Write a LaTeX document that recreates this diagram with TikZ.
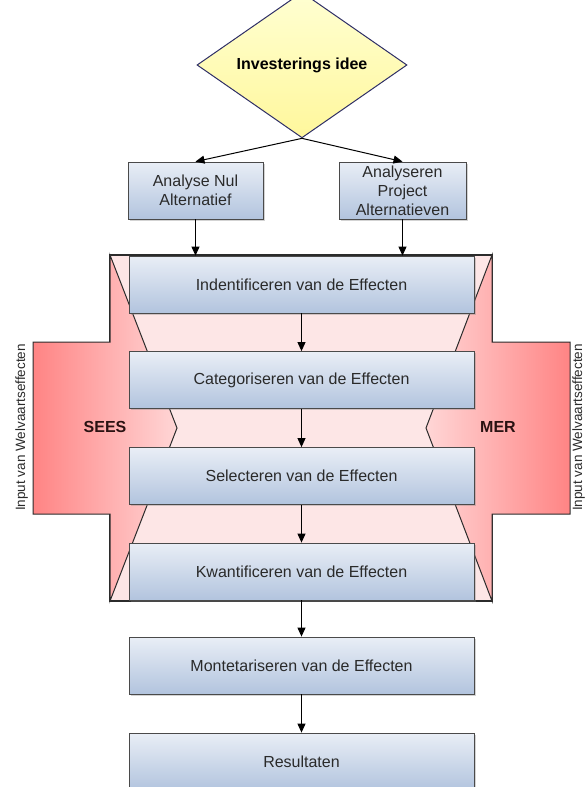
\documentclass[tikz,border=0pt]{standalone}
\usepackage{fontspec}
\setmainfont{Liberation Sans}
\usetikzlibrary{shapes.geometric,arrows.meta,shadows}

\definecolor{boxtop}{HTML}{E9EEF6}
\definecolor{boxbot}{HTML}{B2C4DE}
\definecolor{boxline}{HTML}{4A4A4A}
\definecolor{txt}{HTML}{2A2A2A}
\definecolor{dnavy}{HTML}{2E2E66}
\definecolor{ytop}{HTML}{FFFFD2}
\definecolor{ybot}{HTML}{FFF79C}
\definecolor{frameline}{HTML}{2B2B2B}
\definecolor{innerpink}{HTML}{FDE6E6}
\definecolor{sred}{HTML}{FF8484}
\definecolor{spale}{HTML}{FFD6D6}
\definecolor{lbl}{HTML}{2A1212}

\begin{document}
\begin{tikzpicture}[x=1pt,y=-1pt,
  boxfont/.style={font=\fontsize{16}{19}\selectfont},
  stepbox/.style={boxfont, draw=boxline, line width=0.8pt,
    top color=boxtop, bottom color=boxbot, text=txt,
    minimum width=345pt, minimum height=57pt, inner sep=0pt, align=center,
    drop shadow={shadow xshift=1.5pt, shadow yshift=-1.5pt, opacity=0.35}},
  altbox/.style={stepbox, minimum height=57pt},
  flow/.style={-{Triangle[length=9pt,width=8pt]}, line width=1pt, black},
  sidelabel/.style={font=\bfseries\fontsize{16}{19}\selectfont, text=lbl},
  inputlabel/.style={rotate=90, anchor=base, font=\fontsize{13.5}{16}\selectfont, text=txt}]
\useasboundingbox (0,0) rectangle (584,787);

% pink frame holding the four analysis steps
\draw[draw=frameline, line width=1.1pt, fill=innerpink] (110,255) rectangle (492,601);

% SEES input arrow (left) and MER input arrow (right)
\draw[draw=frameline, line width=1pt, left color=sred, right color=spale]
  (33,342) -- (110,342) -- (110,255) -- (177,428) -- (110,601) -- (110,514) -- (33,514) -- cycle;
\draw[draw=frameline, line width=1pt, left color=spale, right color=sred]
  (570,342) -- (492,342) -- (492,255) -- (426,428) -- (492,601) -- (492,514) -- (570,514) -- cycle;

\node[sidelabel] (sees) at (105,427) {SEES};
\node[sidelabel] (mer) at (498,427) {MER};
\node[inputlabel] (inleft) at (25,427.5) {Input van Welvaartseffecten};
\node[inputlabel] (inright) at (582,427.5) {Input van Welvaartseffecten};

% decision diamond
\node[diamond, draw=dnavy, line width=1pt, minimum width=210pt, minimum height=114pt,
  inner sep=0pt, top color=ytop, bottom color=ybot,
  font=\bfseries\fontsize{16}{19}\selectfont] (idee) at (302,65) {Investerings idee};

% alternatives
\node[altbox, minimum width=135pt] (nul) at (195.5,190.5) {Analyse Nul\\Alternatief};
\node[altbox, minimum width=127pt] (proj) at (402.5,190.5) {Analyseren\\Project\\Alternatieven};

% steps
\node[stepbox] (e1) at (301.5,284.5) {Indentificeren van de Effecten};
\node[stepbox] (e2) at (301.5,380) {Categoriseren van de Effecten};
\node[stepbox] (e3) at (301.5,476) {Selecteren van de Effecten};
\node[stepbox] (e4) at (301.5,571.5) {Kwantificeren van de Effecten};
\node[stepbox] (e5) at (301.5,665.5) {Montetariseren van de Effecten};
\node[stepbox] (e6) at (301.5,761.5) {Resultaten};

% connectors
\draw[flow] (idee.south) -- (nul.north);
\draw[flow] (idee.south) -- (proj.north);
\draw[flow] (nul.south) -- (nul.south |- e1.north);
\draw[flow] (proj.south) -- (proj.south |- e1.north);
\draw[flow] (e1.south) -- (e2.north);
\draw[flow] (e2.south) -- (e3.north);
\draw[flow] (e3.south) -- (e4.north);
\draw[flow] (e4.south) -- (e5.north);
\draw[flow] (e5.south) -- (e6.north);
\end{tikzpicture}
\end{document}
